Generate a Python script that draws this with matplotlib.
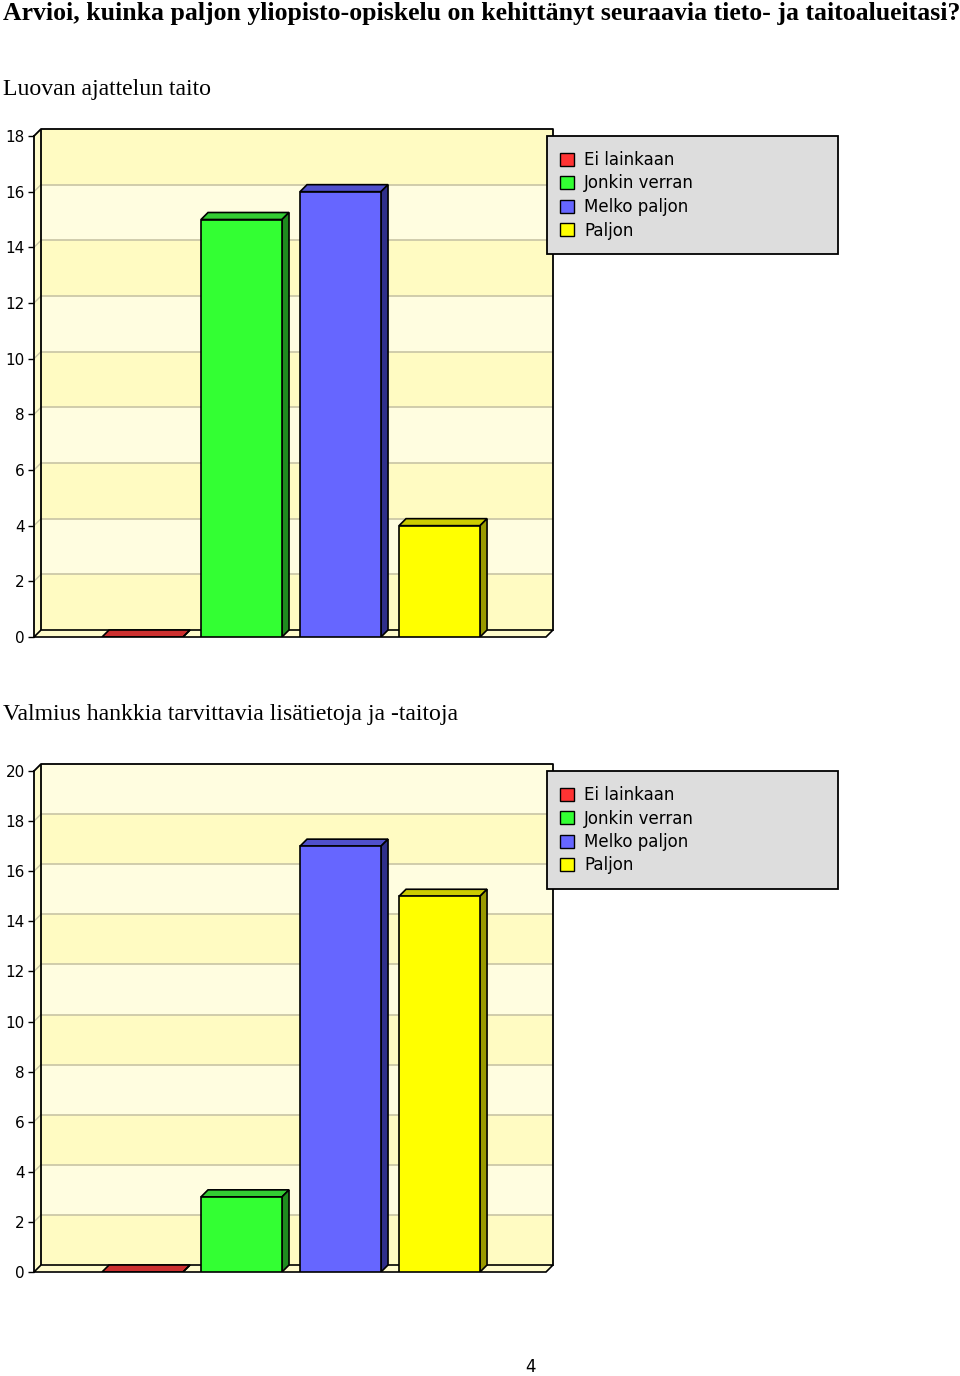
import matplotlib.pyplot as plt
from matplotlib.patches import Polygon, Rectangle, Patch

# data
title = "Arvioi, kuinka paljon yliopisto-opiskelu on kehittänyt seuraavia tieto- ja taitoalueitasi?"
categories = ["Ei lainkaan", "Jonkin verran", "Melko paljon", "Paljon"]
chart1_title = "Luovan ajattelun taito"
chart1_values = [0, 15, 16, 4]
chart1_ymax = 18
chart2_title = "Valmius hankkia tarvittavia lisätietoja ja -taitoja"
chart2_values = [0, 3, 17, 15]
chart2_ymax = 20
page_number = "4"

# colours: front face, top face, side face
front = ['#ff3333', '#33ff33', '#6666ff', '#ffff00']
top = ['#cc3030', '#33cc33', '#5050cc', '#cccc00']
side = ['#992020', '#1f8a1f', '#2f2f8a', '#999900']
bands = ['#fffbc2', '#fffde0']
grid_c = '#c8c4a4'
floor_c = '#fffccc'

W, H = 960, 1376
X0, X1 = -0.096, 5.146
BW = 0.818


def draw(ax, values, ymax):
    ytop = ymax * 508 / 501
    ax.set_xlim(X0, X1)
    ax.set_ylim(0, ytop)
    dx = (X1 - X0) * 7 / 519
    dy = ytop * 7 / 508
    ax.patch.set_visible(False)

    # back wall with alternating bands
    for k in range(ymax // 2):
        ax.add_patch(Rectangle((X0 + dx, 2 * k + dy), X1 - X0 - dx, 2,
                               facecolor=bands[k % 2], edgecolor='none', zorder=0))
    # left side wall
    ax.add_patch(Polygon([(X0, 0), (X0 + dx, dy), (X0 + dx, ytop), (X0, ymax)],
                         facecolor=floor_c, edgecolor='none', zorder=0))
    for v in range(2, ymax, 2):
        ax.plot([X0 + dx, X1], [v + dy, v + dy], color=grid_c, lw=1.2, zorder=1)
        ax.plot([X0, X0 + dx], [v, v + dy], color=grid_c, lw=1, zorder=1)
    # wall outline
    ax.plot([X0, X0 + dx, X1, X1], [ymax, ytop, ytop, dy], color='k', lw=1.3,
            zorder=2, clip_on=False)
    ax.plot([X0 + dx, X0 + dx], [dy, ytop], color='k', lw=1.3, zorder=2)
    # floor
    ax.add_patch(Polygon([(X0, 0), (X1 - dx, 0), (X1, dy), (X0 + dx, dy)],
                         facecolor=floor_c, edgecolor='k', lw=1.2, zorder=2,
                         clip_on=False))

    pos = list(range(1, len(values) + 1))
    ax.bar(pos, values, width=BW, color=front, edgecolor='k', lw=1.2, zorder=4)
    for p, v, tc, sc in zip(pos, values, top, side):
        xl, xr = p - BW / 2, p + BW / 2
        ax.add_patch(Polygon([(xl, v), (xl + dx, v + dy), (xr + dx, v + dy), (xr, v)],
                             facecolor=tc, edgecolor='k', lw=1.2, zorder=3))
        ax.add_patch(Polygon([(xr, 0), (xr + dx, dy), (xr + dx, v + dy), (xr, v)],
                             facecolor=sc, edgecolor='k', lw=1.2, zorder=3))

    for s in ['top', 'right', 'bottom']:
        ax.spines[s].set_visible(False)
    ax.spines['left'].set_bounds(0, ymax)
    ax.spines['left'].set_linewidth(1.3)
    ax.set_xticks([])
    ax.set_yticks(range(0, ymax + 1, 2))
    ax.tick_params(axis='y', direction='out', length=4.5, width=1, labelsize=11, pad=2)


def legend_box(fig, ytop_px):
    fig.patches.append(Rectangle((547 / W, 1 - (ytop_px + 118) / H), 291 / W, 118 / H,
                                 transform=fig.transFigure, facecolor='#dddddd',
                                 edgecolor='k', lw=1.3, zorder=5))
    handles = [Patch(facecolor=c, edgecolor='k', lw=1) for c in front]
    fig.legend(handles=handles, labels=categories, loc='upper left',
               bbox_to_anchor=(560 / W, 1 - (ytop_px + 15) / H), frameon=False,
               handlelength=0.84, handleheight=0.84, handletextpad=0.6,
               labelspacing=0.33, fontsize=12, borderaxespad=0, borderpad=0)


fig = plt.figure(figsize=(W / 100, H / 100), dpi=100)

fig.text(3 / W, 1 - 20 / H, title, fontfamily='Liberation Serif', fontweight='bold',
         fontsize=18.5, va='baseline')
fig.text(3 / W, 1 - 95 / H, chart1_title, fontfamily='Liberation Serif',
         fontsize=17.1, va='baseline')
fig.text(3 / W, 1 - 720 / H, chart2_title, fontfamily='Liberation Serif',
         fontsize=17.1, va='baseline')

ax1 = fig.add_axes([34 / W, 1 - 637 / H, 519 / W, 508 / H])
draw(ax1, chart1_values, chart1_ymax)
legend_box(fig, 136)

ax2 = fig.add_axes([34 / W, 1 - 1272 / H, 519 / W, 508 / H])
draw(ax2, chart2_values, chart2_ymax)
legend_box(fig, 771)

fig.text(530 / W, 1 - 1367 / H, page_number, ha='center', va='center', fontsize=12)

fig.savefig('out.png', dpi=100)
